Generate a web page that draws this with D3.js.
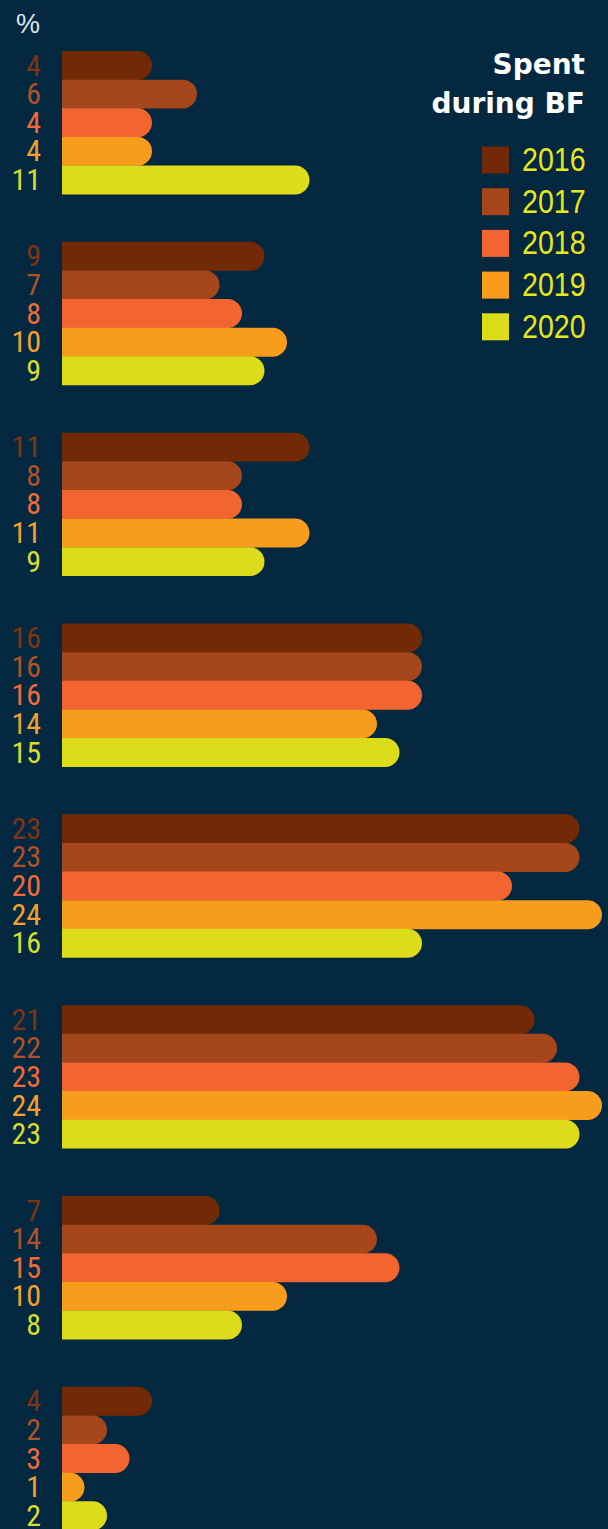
<!DOCTYPE html>
<html>
<head>
<meta charset="utf-8">
<script src="https://cdn.jsdelivr.net/npm/d3@7"></script>
<style>
  html, body { margin: 0; padding: 0; background: #04283f; }
  svg { display: block; }
</style>
</head>
<body>
<svg id="chart" width="608" height="1529"></svg>
<script>
// ---- data ----
const years = ["2016", "2017", "2018", "2019", "2020"];
const groups = ["g1", "g2", "g3", "g4", "g5", "g6", "g7", "g8"];
const values2016 = [4, 9, 11, 16, 23, 21, 7, 4];
const values2017 = [6, 7, 8, 16, 23, 22, 14, 2];
const values2018 = [4, 8, 8, 16, 20, 23, 15, 3];
const values2019 = [4, 10, 11, 14, 24, 24, 10, 1];
const values2020 = [11, 9, 9, 15, 16, 23, 8, 2];
const colors = ["#722a06", "#a5461b", "#f26530", "#f89c1c", "#dcdc1a"];
const labelColors = ["#7e3414", "#b0512a", "#f06a3a", "#f4a030", "#d8dc30"];
const legendTitle = ["Spent", "during BF"];
const unitLabel = "%";

const series = [values2016, values2017, values2018, values2019, values2020];
const rows = [];
groups.forEach((g, gi) => {
  years.forEach((yr, yi) => rows.push({ group: g, year: yr, value: series[yi][gi] }));
});

const svg = d3.select("#chart");
const W = 608, H = 1529;
svg.append("rect").attr("width", W).attr("height", H).attr("fill", "#04283f");

const narrow = "'Liberation Sans Narrow', 'Roboto Condensed', 'Arial Narrow', sans-serif";

const x = d3.scaleLinear().domain([0, 24]).range([62, 602]);
const yGroup = d3.scaleBand().domain(groups).range([51, 1530]).paddingInner(0.25).paddingOuter(0);
const yYear = d3.scaleBand().domain(years).range([0, yGroup.bandwidth()]).padding(0);
const color = d3.scaleOrdinal().domain(years).range(colors);
const labelColor = d3.scaleOrdinal().domain(years).range(labelColors);

function barPath(d) {
  const x0 = x(0), x1 = x(d.value);
  const y = yGroup(d.group) + yYear(d.year);
  const h = yYear.bandwidth() + 0.3;
  const r = h / 2;
  return `M${x0},${y}H${x1 - r}A${r},${r} 0 0 1 ${x1 - r},${y + h}H${x0}Z`;
}

svg.append("g").selectAll("path").data(rows).join("path")
  .attr("d", barPath)
  .attr("fill", d => color(d.year));

svg.append("g").selectAll("text").data(rows).join("text")
  .attr("x", 41)
  .attr("y", d => yGroup(d.group) + yYear(d.year) + yYear.bandwidth() / 2)
  .attr("dy", "0.34em")
  .attr("text-anchor", "end")
  .attr("font-family", narrow)
  .attr("font-size", 30)
  .attr("fill", d => labelColor(d.year))
  .text(d => d.value);

svg.append("text")
  .attr("x", 16).attr("y", 33)
  .attr("font-family", "'Liberation Sans', Arial, sans-serif")
  .attr("font-size", 27)
  .attr("fill", "#dce4ec")
  .text(unitLabel);

// legend
const lg = svg.append("g");
lg.selectAll("text.title").data(legendTitle).join("text")
  .attr("class", "title")
  .attr("x", 585)
  .attr("y", (d, i) => 74 + i * 39)
  .attr("text-anchor", "end")
  .attr("font-family", "'DejaVu Sans', sans-serif")
  .attr("font-weight", "bold")
  .attr("font-size", 28)
  .attr("fill", "#ffffff")
  .text(d => d);

const legY = d3.scaleBand().domain(years).range([146.5, 146.5 + 5 * 41.7]).padding(0);
lg.selectAll("rect").data(years).join("rect")
  .attr("x", 482).attr("y", d => legY(d))
  .attr("width", 27).attr("height", 27)
  .attr("fill", d => color(d));
lg.selectAll("text.yr").data(years).join("text")
  .attr("class", "yr")
  .attr("transform", d => `translate(522,${legY(d) + 24.5}) scale(0.88,1)`)
  .attr("font-family", "'Liberation Sans', Arial, sans-serif")
  .attr("font-size", 32.5)
  .attr("fill", "#e6e61e")
  .text(d => d);
</script>
</body>
</html>
